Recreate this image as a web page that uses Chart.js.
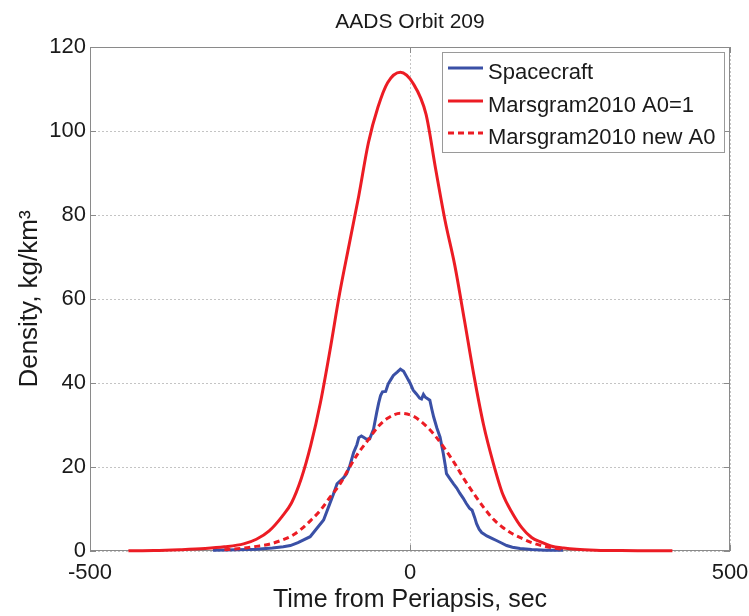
<!DOCTYPE html>
<html>
<head>
<meta charset="utf-8">
<script src="https://cdn.jsdelivr.net/npm/chart.js@4"></script>
<style>
  html, body { margin: 0; padding: 0; background: #fff; }
  #wrap { width: 749px; height: 616px; }
</style>
</head>
<body>
<div id="wrap"><canvas id="orbitChart" width="749" height="616"></canvas></div>
<script>
// tick positions
const xTickValues = [-500, 0, 500];
const yTickValues = [0, 20, 40, 60, 80, 100, 120];

// measured density from the spacecraft
const spacecraftTime = [-308, -270, -240, -215, -198, -187, -175, -167, -156, -146,
    -135, -125, -120, -114, -109, -104, -99, -94, -88, -83,
    -80, -76, -72, -68, -63, -57, -52, -49, -46, -43,
    -38, -34, -30, -26, -20, -15, -10, -5, 0, 5,
    10, 15, 18, 21, 24, 27, 31, 34, 37, 42,
    47, 52, 55, 57, 62, 68, 73, 78, 83, 88,
    93, 97, 101, 104, 108, 112, 116, 120, 128, 135,
    143, 151, 160, 172, 190, 212, 239];
const spacecraftDensity = [0.2, 0.3, 0.4, 0.7, 1.0, 1.3, 2.0, 2.6, 3.4, 5.3,
    7.4, 11.4, 13.4, 16.0, 16.7, 17.4, 18.4, 20.3, 23.5, 25.3,
    27.0, 27.4, 27.0, 26.6, 26.7, 29.0, 33.0, 35.2, 37.0, 37.9,
    38.0, 39.8, 40.8, 41.8, 42.6, 43.3, 42.8, 41.4, 40.0, 38.3,
    37.4, 36.4, 36.2, 37.3, 36.6, 36.3, 35.9, 33.8, 31.9, 29.3,
    27.1, 23.2, 20.5, 18.4, 17.3, 16.0, 15.0, 13.7, 12.6, 11.3,
    10.2, 9.7, 8.0, 6.5, 5.2, 4.4, 4.0, 3.6, 3.0, 2.5,
    1.9, 1.3, 0.9, 0.6, 0.35, 0.2, 0.15];

// Marsgram2010 with A0 = 1
const marsgramTime = [-440, -400, -360, -320, -290, -260, -240, -220, -200, -185,
    -170, -155, -140, -125, -110, -95, -80, -65, -50, -35,
    -15, 5, 25, 40, 55, 70, 85, 100, 115, 130,
    145, 160, 175, 190, 205, 220, 240, 260, 290, 330, 370, 410];
const marsgramA0Density = [0.05, 0.1, 0.3, 0.6, 1.0, 1.7, 2.8, 4.8, 8.2, 11.5,
    17.2, 25.2, 35.3, 47.8, 61.3, 73.0, 84.6, 97.2, 105.7, 111.5,
    114.0, 111.3, 104.0, 91.0, 78.5, 68.0, 55.0, 41.7, 30.0, 21.0,
    13.5, 9.0, 5.5, 3.2, 2.1, 1.2, 0.7, 0.4, 0.2, 0.1, 0.08, 0.05];

// Marsgram2010 with the new A0
const newA0Time = [-290, -260, -240, -220, -200, -185, -170, -155, -140, -125,
    -110, -95, -80, -65, -50, -35, -15, 5, 25, 40,
    55, 70, 85, 100, 115, 130, 145, 160, 175, 190, 205, 220, 240];
const newA0Density = [0.3, 0.7, 1.1, 1.6, 2.6, 3.6, 5.2, 7.3, 9.7, 12.8,
    15.8, 19.8, 23.5, 26.5, 29.6, 31.6, 32.8, 32.1, 29.8, 27.3,
    24.2, 20.8, 17.0, 13.6, 10.4, 7.6, 5.6, 4.1, 3.0, 2.0, 1.3, 0.8, 0.4];

const toPoints = (xs, ys) => xs.map((x, i) => ({ x: x, y: ys[i] }));

const BLUE = 'rgb(58, 80, 166)';
const RED = 'rgb(236, 28, 36)';
const AXIS = '#8a8a8a';
const INK = '#1a1a1a';
const FONT = "'Liberation Sans', Arial, Helvetica, sans-serif";

// box round the plot with MATLAB style inward ticks, title centred on the axes
const axesBox = {
    id: 'axesBox',
    beforeDatasetsDraw(chart) {
        const { ctx, chartArea: a, scales } = chart;
        ctx.save();
        ctx.strokeStyle = AXIS;
        ctx.lineWidth = 1;
        ctx.strokeRect(a.left + 0.5, a.top + 0.5, a.right - a.left - 1, a.bottom - a.top - 1);
        ctx.beginPath();
        xTickValues.forEach(v => {
            const px = Math.round(scales.x.getPixelForValue(v)) + 0.5;
            ctx.moveTo(px, a.bottom); ctx.lineTo(px, a.bottom - 6);
            ctx.moveTo(px, a.top); ctx.lineTo(px, a.top + 6);
        });
        yTickValues.forEach(v => {
            const py = Math.round(scales.y.getPixelForValue(v)) + 0.5;
            ctx.moveTo(a.left, py); ctx.lineTo(a.left + 6, py);
            ctx.moveTo(a.right, py); ctx.lineTo(a.right - 6, py);
        });
        ctx.stroke();

        ctx.fillStyle = INK;
        ctx.font = '21px ' + FONT;
        ctx.textAlign = 'center';
        ctx.textBaseline = 'alphabetic';
        ctx.fillText('AADS Orbit 209', (a.left + a.right) / 2, 28);
        ctx.restore();
    }
};

// legend drawn inside the upper right corner
const insideLegend = {
    id: 'insideLegend',
    afterDraw(chart) {
        const { ctx, chartArea: a } = chart;
        const left = a.right - 288, top = a.top + 5, w = 282, h = 100;
        ctx.save();
        ctx.fillStyle = '#fff';
        ctx.fillRect(left, top, w, h);
        ctx.strokeStyle = '#9a9a9a';
        ctx.lineWidth = 1;
        ctx.strokeRect(left + 0.5, top + 0.5, w, h);
        const rows = [21, 54, 86];
        chart.data.datasets.forEach((ds, i) => {
            const ly = top + rows[i] - 5;
            ctx.beginPath();
            ctx.strokeStyle = ds.borderColor;
            ctx.lineWidth = 3;
            ctx.setLineDash(ds.borderDash || []);
            ctx.moveTo(left + 6, ly);
            ctx.lineTo(left + 41, ly);
            ctx.stroke();
            ctx.setLineDash([]);
            ctx.fillStyle = INK;
            ctx.font = '22px ' + FONT;
            ctx.textBaseline = 'alphabetic';
            ctx.fillText(ds.label, left + 46, top + rows[i] + 6);
        });
        ctx.restore();
    }
};

const ctx = document.getElementById('orbitChart').getContext('2d');
const orbitChart = new Chart(ctx, {
    type: 'line',
    data: {
        datasets: [
            {
                label: 'Spacecraft',
                data: toPoints(spacecraftTime, spacecraftDensity),
                borderColor: BLUE,
                borderWidth: 3,
                pointRadius: 0,
                tension: 0,
                clip: 4,
                order: 3
            },
            {
                label: 'Marsgram2010 A0=1',
                data: toPoints(marsgramTime, marsgramA0Density),
                borderColor: RED,
                borderWidth: 3,
                pointRadius: 0,
                cubicInterpolationMode: 'monotone',
                clip: 4,
                order: 2
            },
            {
                label: 'Marsgram2010 new A0',
                data: toPoints(newA0Time, newA0Density),
                borderColor: RED,
                borderWidth: 3,
                borderDash: [6, 4],
                pointRadius: 0,
                cubicInterpolationMode: 'monotone',
                clip: 4,
                order: 1
            }
        ]
    },
    options: {
        responsive: false,
        animation: false,
        layout: { padding: { left: 0, right: 19, top: 47, bottom: 0 } },
        plugins: {
            legend: { display: false },
            tooltip: { enabled: false },
            title: { display: false }
        },
        scales: {
            x: {
                type: 'linear',
                min: -500,
                max: 500,
                afterBuildTicks: s => { s.ticks = xTickValues.map(v => ({ value: v })); },
                afterFit: s => { s.height = 65; s.paddingLeft = 0; s.paddingRight = 0; },
                grid: { color: '#c4c4c4', lineWidth: 1, drawTicks: false },
                border: { display: false, dash: [2, 2] },
                ticks: {
                    color: INK,
                    padding: 9,
                    maxRotation: 0,
                    font: { family: FONT, size: 22 }
                },
                title: {
                    display: true,
                    text: 'Time from Periapsis, sec',
                    color: INK,
                    font: { family: FONT, size: 25 },
                    padding: { top: 0, bottom: 1 }
                }
            },
            y: {
                min: 0,
                max: 120,
                afterBuildTicks: s => { s.ticks = yTickValues.map(v => ({ value: v })); },
                afterFit: s => { s.width = 90; s.paddingTop = 0; s.paddingBottom = 0; },
                grid: { color: '#c4c4c4', lineWidth: 1, drawTicks: false },
                border: { display: false, dash: [2, 2] },
                ticks: {
                    color: INK,
                    padding: 4,
                    font: { family: FONT, size: 22 }
                },
                title: {
                    display: true,
                    text: 'Density, kg/km³',
                    color: INK,
                    font: { family: FONT, size: 26 },
                    padding: { top: 14, bottom: 0 }
                }
            }
        }
    },
    plugins: [axesBox, insideLegend]
});
</script>
</body>
</html>
